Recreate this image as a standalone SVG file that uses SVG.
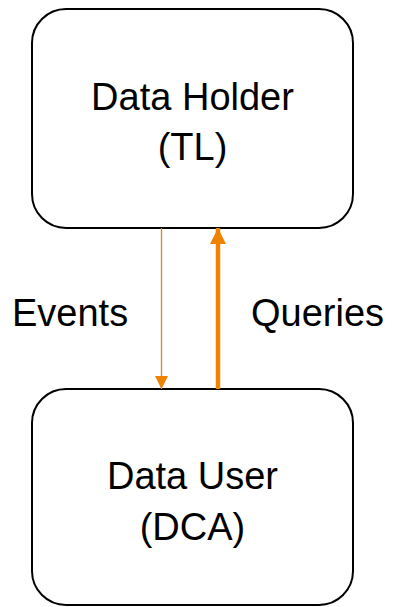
<svg xmlns="http://www.w3.org/2000/svg" width="394" height="607" viewBox="0 0 394 607">
<style>
.box{fill:#fff;stroke:#000;stroke-width:2}
.t{font-family:"Liberation Sans",Arial,sans-serif;font-size:38px;fill:#000;text-anchor:middle}
.l{font-family:"Liberation Sans",Arial,sans-serif;font-size:38px;fill:#000}
</style>
<defs>
<marker id="ah" markerWidth="13" markerHeight="13" refX="13" refY="6.5" orient="auto" markerUnits="userSpaceOnUse"><path d="M0,0L13,6.5L0,13Z" fill="#EF8200"/></marker>
<marker id="ah2" markerWidth="16" markerHeight="16" refX="16" refY="8" orient="auto" markerUnits="userSpaceOnUse"><path d="M0,0L16,8L0,16Z" fill="#EF8200"/></marker>
</defs>
<g id="holder">
<rect class="box" x="32" y="9" width="321" height="219" rx="34"/>
<text class="t" x="192.5" y="110">Data Holder</text>
<text class="t" x="192.5" y="160">(TL)</text>
</g>
<g id="user">
<rect class="box" x="32" y="389" width="321" height="216" rx="34"/>
<text class="t" x="192.5" y="489">Data User</text>
<text class="t" x="192.5" y="540">(DCA)</text>
</g>
<g id="connectors">
<line x1="161.5" y1="228" x2="161.5" y2="389" stroke="#EF8200" stroke-width="1.3" marker-end="url(#ah)"/>
<line x1="218" y1="389" x2="218" y2="228" stroke="#EF8200" stroke-width="4.5" marker-end="url(#ah2)"/>
<text class="l" x="12" y="326">Events</text>
<text class="l" x="251" y="326">Queries</text>
</g>
</svg>
